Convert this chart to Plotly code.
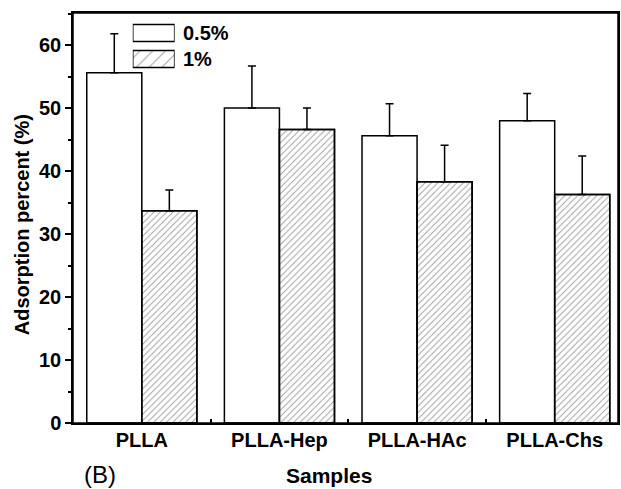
import plotly.graph_objects as go

categories = ["PLLA", "PLLA-Hep", "PLLA-HAc", "PLLA-Chs"]
series_names = ["0.5%", "1%"]
vals_05 = [55.6, 50.0, 45.6, 48.0]
err_05 = [6.2, 6.7, 5.1, 4.3]
vals_1 = [33.7, 46.6, 38.3, 36.3]
err_1 = [3.3, 3.4, 5.8, 6.1]
y_ticks = [0, 10, 20, 30, 40, 50, 60]

font_family = "Liberation Sans, Arial, sans-serif"
hatch = dict(shape="/", fgcolor="#454545", bgcolor="white", size=4.5, solidity=0.22)
outline = dict(color="black", width=1.5)

fig = go.Figure()
fig.add_trace(go.Bar(
    x=categories, y=vals_05, name=series_names[0], offsetgroup="a",
    marker=dict(color="white", line=outline),
    error_y=dict(type="data", array=err_05, arrayminus=[0]*4, symmetric=False,
                 color="black", thickness=1.5, width=4),
    showlegend=False,
))
fig.add_trace(go.Bar(
    x=categories, y=vals_1, name=series_names[1], offsetgroup="b",
    marker=dict(color="white", line=outline, pattern=hatch),
    error_y=dict(type="data", array=err_1, arrayminus=[0]*4, symmetric=False,
                 color="black", thickness=1.5, width=4),
    showlegend=False,
))
# outline overlay for hatched bars
fig.add_trace(go.Bar(
    x=categories, y=vals_1, offsetgroup="b", hoverinfo="skip",
    marker=dict(color="rgba(0,0,0,0)", line=outline),
    showlegend=False,
))

# legend swatches drawn as a small overlay bar chart
fig.add_trace(go.Bar(
    y=series_names, x=[1, 1], orientation="h", width=0.66,
    xaxis="x2", yaxis="y2", showlegend=False, hoverinfo="skip",
    marker=dict(color="white", line=outline,
                pattern=dict(shape=["", "/"], fgcolor="#454545", bgcolor="white",
                             size=9, solidity=0.12)),
))

W, H = 621, 489
ml, mr, mt, mb = 73, 1, 13, 66
pw, ph = W - ml - mr, H - mt - mb

def dx(px):
    return (px - ml) / pw

def dy(py):
    return 1 - (py - mt) / ph

annotations = [
    dict(text="(B)", x=dx(82), y=dy(474), xanchor="left", yanchor="middle",
         font=dict(size=24, family=font_family)),
    dict(text="<b>Samples</b>", x=dx(330), y=dy(476), xanchor="center", yanchor="middle",
         font=dict(size=21, family=font_family)),
    dict(text="<b>Adsorption percent (%)</b>", x=dx(22), y=dy(225), textangle=-90,
         xanchor="center", yanchor="middle", font=dict(size=20, family=font_family)),
    dict(text="<b>" + series_names[0] + "</b>", x=dx(181), y=dy(33), xanchor="left",
         yanchor="middle", font=dict(size=20, family=font_family)),
    dict(text="<b>" + series_names[1] + "</b>", x=dx(181), y=dy(59), xanchor="left",
         yanchor="middle", font=dict(size=20, family=font_family)),
]
for a in annotations:
    a.update(xref="paper", yref="paper", showarrow=False)

fig.update_layout(
    width=W, height=H,
    margin=dict(l=ml, r=mr, t=mt, b=mb),
    paper_bgcolor="white", plot_bgcolor="white",
    barmode="group", bargap=0.2, bargroupgap=0.0,
    font=dict(family=font_family, color="black"),
    xaxis=dict(
        range=[-0.5, 3.46], tickson="boundaries", ticks="inside", ticklen=4,
        tickwidth=1.5, tickcolor="black",
        showline=True, linecolor="black", linewidth=1.5, mirror=True,
        tickfont=dict(size=20, family=font_family, weight="bold"),
        ticklabelstandoff=-2,
        showgrid=False,
    ),
    yaxis=dict(
        range=[0, 65.1], tickvals=y_ticks, ticks="outside", ticklen=6,
        tickwidth=1.5, tickcolor="black",
        minor=dict(dtick=5, ticks="outside", ticklen=3, tickwidth=1.5, tickcolor="black"),
        showline=True, linecolor="black", linewidth=1.5, mirror=True,
        tickfont=dict(size=20, family=font_family, weight="bold"),
        showgrid=False, zeroline=False,
    ),
    xaxis2=dict(domain=[dx(133), dx(175)], anchor="y2", range=[0, 1],
                visible=False, fixedrange=True),
    yaxis2=dict(domain=[dy(72), dy(20)], anchor="x2", range=[1.5, -0.5],
                visible=False, fixedrange=True),
    annotations=annotations,
    shapes=[dict(type="rect", xref="paper", yref="paper", x0=0, x1=1, y0=0, y1=1,
                 line=dict(color="black", width=1.5), layer="above")],
)

fig.write_html(
    "out.html",
    config={"displayModeBar": False},
    post_script="document.body.style.margin='0';document.body.style.padding='0';",
)
